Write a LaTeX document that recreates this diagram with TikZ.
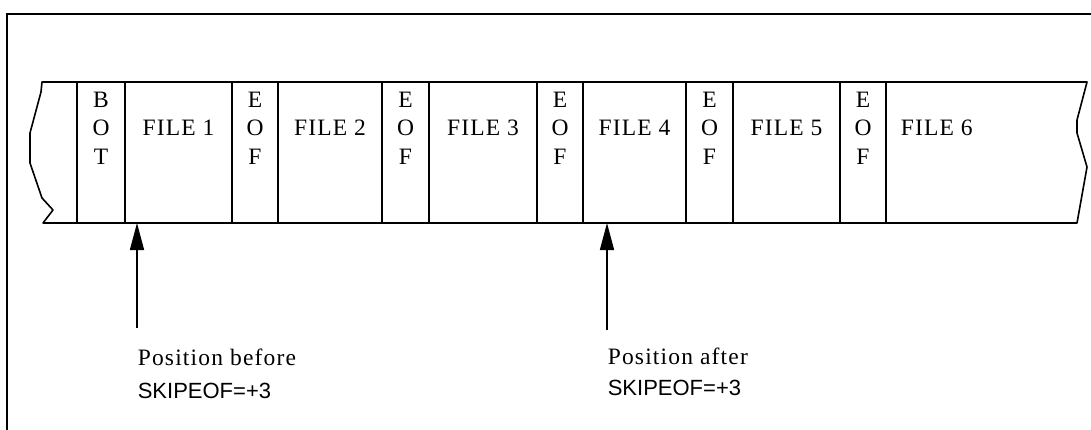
\documentclass[tikz,border=0pt]{standalone}
\usepackage{fontspec}
\setmainfont{Liberation Serif}
\newfontfamily\helv{Liberation Sans}
\newfontfamily\spacedserif[LetterSpace=5]{Liberation Serif}
\usetikzlibrary{arrows.meta}
\begin{document}
\begin{tikzpicture}[x=1pt,y=-1pt,line width=1.6pt,
  cell/.style={font=\spacedserif\fontsize{23.5}{28.5}\selectfont,inner sep=0,align=center},
  lbl/.style={font=\spacedserif\fontsize{23.5}{25}\selectfont,inner sep=0,anchor=base west},
  cmd/.style={font=\helv\fontsize{22}{25}\selectfont,inner sep=0,anchor=base west},
  ptr/.style={line width=1.6pt,-{Triangle[length=27pt,width=14pt]}}]
\useasboundingbox (0,0) rectangle (1091,430);
% outer frame
\draw[line width=1.3pt] (7,430) -- (7,14) -- (1091,14);
% tape outline
\draw[line join=round] (42,82) -- (1087,82) -- (1077,120) -- (1077,133) -- (1087,167) -- (1077,223)
  -- (43,223) -- (53,210) -- (42,198) -- (30,163) -- (30,133) -- (41,92) -- cycle;
% dividers
\foreach \x in {77,125,232,278,382,429,537,583,686,733,840,886}
  \draw (\x,82) -- (\x,223);
% cell texts
\node[cell] (bot) at (101,128) {B\\O\\T};
\node[cell] (f1) at (178.5,128) {FILE 1};
\node[cell] (e1) at (255,128) {E\\O\\F};
\node[cell] (f2) at (330,128) {FILE 2};
\node[cell] (e2) at (405.5,128) {E\\O\\F};
\node[cell] (f3) at (483,128) {FILE 3};
\node[cell] (e3) at (560,128) {E\\O\\F};
\node[cell] (f4) at (634.5,128) {FILE 4};
\node[cell] (e4) at (709.5,128) {E\\O\\F};
\node[cell] (f5) at (786.5,128) {FILE 5};
\node[cell] (e5) at (863,128) {E\\O\\F};
\node[cell,anchor=west] (f6) at (900,128) {FILE 6};
% pointers
\coordinate (p1) at (137,223);
\coordinate (t1) at (137,328);
\coordinate (p2) at (607,223);
\coordinate (t2) at (607,330);
\draw[ptr] (t1) -- (p1);
\draw[ptr] (t2) -- (p2);
\node[lbl] (l1a) at (137,365) {Position before};
\node[cmd] (l1b) at (137,398) {SKIPEOF=+3};
\node[lbl] (l2a) at (607,364) {Position after};
\node[cmd] (l2b) at (607,395) {SKIPEOF=+3};
\end{tikzpicture}
\end{document}
